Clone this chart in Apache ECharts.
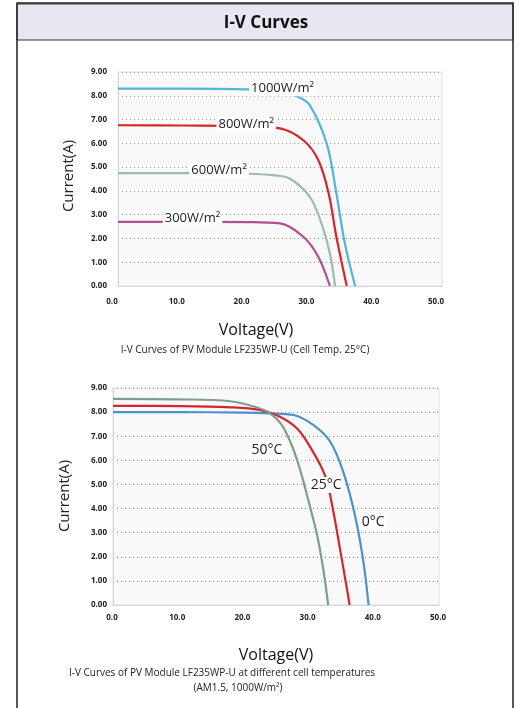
<!DOCTYPE html>
<html>
<head>
<meta charset="utf-8">
<script src="https://cdn.jsdelivr.net/npm/echarts@6/dist/echarts.min.js"></script>
<style>
	html, body { margin: 0; padding: 0; background: #fff; }
	#chart { width: 519px; height: 708px; }
</style>
</head>
<body>
<div id="chart"></div>
<script>
// chart 1: irradiance curves at 25°C (voltage V, current A)
const v1000 = [0, 10, 20, 25, 27.6, 29.6, 32.2, 33.7, 35.0, 36.6];
const i1000 = [8.3, 8.3, 8.27, 8.18, 7.98, 7.6, 6.0, 3.9, 1.8, 0];
const v800 = [0, 10, 20, 25.0, 28.6, 30.9, 32.5, 33.7, 35.3];
const i800 = [6.76, 6.75, 6.72, 6.63, 6.13, 5.3, 3.9, 2.07, 0];
const v600 = [0, 10, 20, 24.2, 26.5, 29.6, 31.4, 32.7, 33.5];
const i600 = [4.75, 4.75, 4.72, 4.65, 4.52, 3.75, 2.63, 1.37, 0];
const v300 = [0, 10, 20, 25.0, 28.6, 30.9, 32.7];
const i300 = [2.7, 2.7, 2.69, 2.63, 2.07, 1.23, 0];
const irrNames = ["1000W/m²", "800W/m²", "600W/m²", "300W/m²"];
const irrLabelV = [25.4, 19.8, 15.6, 11.5];
const irrLabelI = [8.3, 6.8, 4.87, 2.86];

// chart 2: temperature curves at 1000W/m²
const v50 = [0, 10, 18, 22, 24.1, 25.8, 27.3, 28.6, 30.0, 31.3, 32.3, 33.0];
const i50 = [8.55, 8.53, 8.45, 8.2, 7.95, 7.5, 6.7, 5.7, 4.3, 2.9, 1.4, 0];
const v25 = [0, 10, 18, 22.5, 25.6, 28.2, 30.2, 32.5, 33.5, 34.8, 36.3];
const i25 = [8.26, 8.25, 8.2, 8.09, 7.81, 7.33, 6.57, 5.39, 4.29, 2.35, 0];
const v0 = [0, 10, 20, 24, 27.7, 30.7, 33.3, 35.3, 37.1, 38.4, 39.2];
const i0 = [8.0, 8.0, 7.98, 7.95, 7.88, 7.47, 6.78, 5.53, 3.73, 1.8, 0];
const tempNames = ["50°C", "25°C", "0°C"];
const tempLabelV = [23.6, 32.7, 39.9];
const tempLabelI = [6.43, 4.98, 3.44];

const xMax = 50, xStep = 10;
const yMax = 9, yStep = 1;

const font = "Open Sans";
const zip = (a, b) => a.map((v, k) => [v, b[k]]);

const chart = echarts.init(document.getElementById("chart"));

function xAxisOf(idx, margin, shift) {
	return {
		type: "value", gridIndex: idx, min: 0, max: xMax, interval: xStep,
		axisLine: { show: true, lineStyle: { color: "#d4d4dc" } },
		axisTick: { show: false },
		splitLine: { show: false },
		axisLabel: {
			margin: margin, fontSize: 8, fontWeight: "bold", color: "#222", fontFamily: font,
			padding: [0, shift, 0, 0],
			formatter: v => v.toFixed(1)
		}
	};
}
function yAxisOf(idx, margin) {
	return {
		type: "value", gridIndex: idx, min: 0, max: yMax, interval: yStep,
		axisLine: { show: true, lineStyle: { color: "#d4d4dc" } },
		axisTick: { show: false },
		splitLine: { show: true, lineStyle: { type: [1, 3], color: "#9a9a9a", width: 1 } },
		axisLabel: {
			margin: margin, fontSize: 8, fontWeight: "bold", color: "#222", fontFamily: font,
			formatter: v => v.toFixed(2)
		}
	};
}
function curve(name, vs, is, color, gi, labelText, lv, li, fs) {
	return {
		name: name, type: "line", xAxisIndex: gi, yAxisIndex: gi,
		data: zip(vs, is), smooth: 0.35, symbol: "none",
		lineStyle: { color: color, width: 2.2 },
		markPoint: {
			z: 10, symbol: "circle", symbolSize: 0, silent: true,
			data: [{ coord: [lv, li] }],
			label: {
				show: true, position: "inside", formatter: labelText,
				fontFamily: font, fontSize: fs, color: "#222",
				backgroundColor: "#fff", padding: [1, 2]
			}
		}
	};
}

const option = {
	backgroundColor: "#fff",
	animation: false,
	grid: [
		{ left: 118, top: 72, width: 324, height: 214, show: true, backgroundColor: "#f9f9fa", borderColor: "#dedfe8", borderWidth: 1 },
		{ left: 113, top: 388, width: 326, height: 217, show: true, backgroundColor: "#f9f9fa", borderColor: "#dedfe8", borderWidth: 1 }
	],
	xAxis: [xAxisOf(0, 12, 12), xAxisOf(1, 9, 2)],
	yAxis: [yAxisOf(0, 11), yAxisOf(1, 6)],
	series: [
		curve("300", v300, i300, "#b0508e", 0, irrNames[3], irrLabelV[3], irrLabelI[3], 13),
		curve("600", v600, i600, "#9dbcae", 0, irrNames[2], irrLabelV[2], irrLabelI[2], 13),
		curve("800", v800, i800, "#d6262c", 0, irrNames[1], irrLabelV[1], irrLabelI[1], 13),
		curve("1000", v1000, i1000, "#55b4dc", 0, irrNames[0], irrLabelV[0], irrLabelI[0], 13),
		curve("0", v0, i0, "#4a92cc", 1, tempNames[2], tempLabelV[2], tempLabelI[2], 14),
		curve("25", v25, i25, "#d6262c", 1, tempNames[1], tempLabelV[1], tempLabelI[1], 14),
		curve("50", v50, i50, "#7f9e8c", 1, tempNames[0], tempLabelV[0], tempLabelI[0], 14)
	],
	graphic: [
		// page frame
		{ type: "rect", shape: { x: 17, y: 3, width: 496, height: 720 }, style: { fill: "none", stroke: "#222", lineWidth: 1.5 }, z: 100 },
		// title band
		{ type: "rect", shape: { x: 17, y: 4, width: 496, height: 36 }, style: { fill: "#e6e7f0", stroke: "#333", lineWidth: 1 }, z: 90 },
		{ type: "text", x: 266, y: 23, z: 95, style: { text: "I-V Curves", font: "bold 17px 'Open Sans'", fill: "#111", align: "center", verticalAlign: "middle" } },
		// axis titles chart 1
		{ type: "text", x: 69, y: 176, rotation: Math.PI / 2, z: 95, style: { text: "Current(A)", font: "15px 'Open Sans'", fill: "#222", align: "center", verticalAlign: "middle" } },
		{ type: "text", x: 256, y: 330, z: 95, style: { text: "Voltage(V)", font: "16px 'Open Sans'", fill: "#111", align: "center", verticalAlign: "middle" } },
		{ type: "text", x: 245, y: 350, z: 95, style: { text: "I-V Curves of PV Module LF235WP-U (Cell Temp. 25°C)", font: "10px 'Open Sans'", fill: "#222", align: "center", verticalAlign: "middle" } },
		// axis titles chart 2
		{ type: "text", x: 65, y: 496, rotation: Math.PI / 2, z: 95, style: { text: "Current(A)", font: "15px 'Open Sans'", fill: "#222", align: "center", verticalAlign: "middle" } },
		{ type: "text", x: 276, y: 655, z: 95, style: { text: "Voltage(V)", font: "16px 'Open Sans'", fill: "#111", align: "center", verticalAlign: "middle" } },
		{ type: "text", x: 222, y: 673, z: 95, style: { text: "I-V Curves of PV Module LF235WP-U at different cell temperatures", font: "10px 'Open Sans'", fill: "#222", align: "center", verticalAlign: "middle" } },
		{ type: "text", x: 238, y: 688, z: 95, style: { text: "(AM1.5, 1000W/m²)", font: "10px 'Open Sans'", fill: "#222", align: "center", verticalAlign: "middle" } }
	]
};
chart.setOption(option);
</script>
</body>
</html>
